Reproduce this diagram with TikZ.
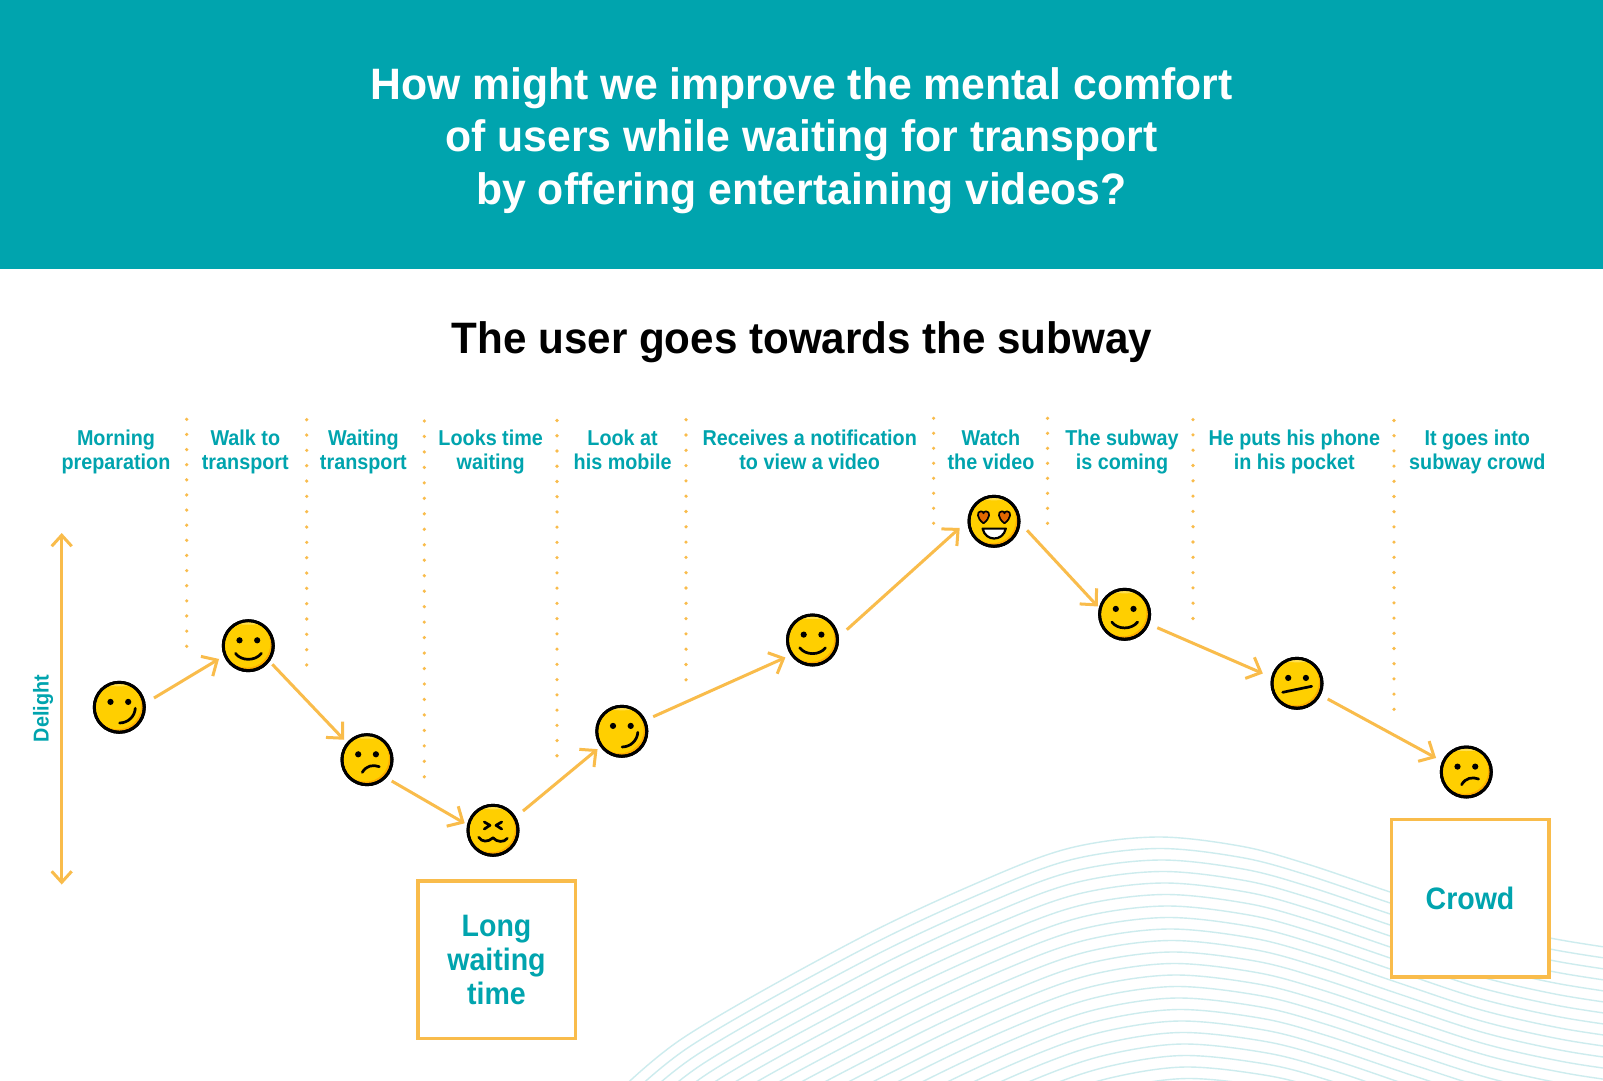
\documentclass[tikz,border=0pt]{standalone}
\usepackage{fontspec}
\setmainfont{Liberation Sans}
\newfontfamily\lblfont[FakeStretch=0.92]{Liberation Sans}
\newfontfamily\ttlfont[FakeStretch=0.971]{Liberation Sans}
\newfontfamily\subfont[FakeStretch=0.958]{Liberation Sans}
\usetikzlibrary{arrows.meta}
\definecolor{teal}{RGB}{0,164,174}
\definecolor{amber}{RGB}{249,188,75}
\definecolor{wave}{RGB}{205,236,238}
\definecolor{facey}{RGB}{255,207,0}
\definecolor{faced}{RGB}{253,172,0}
\definecolor{facel}{RGB}{255,224,80}
\definecolor{heart}{RGB}{224,104,0}
\tikzset{
  face/.style={circle,draw=black,line width=3pt,fill=faced,minimum size=50pt,inner sep=0pt,outer sep=0pt},
  eyedot/.style={fill=black},
  mouth/.style={draw=black,line width=2.7pt,line cap=round,line join=round},
  trip/.style={draw=amber,line width=3pt,shorten >=-2pt,-{Straight Barb[length=12pt,width=23pt,line width=3pt]}},
  sep/.style={draw=amber,line width=3.6pt,line cap=round,dash pattern=on 0pt off #1pt},
  stage/.style={text=teal,align=center,font=\lblfont\fontsize{21.5}{24}\selectfont\bfseries,inner sep=0pt},
  note/.style={draw=amber,line width=3.5pt,fill=white,minimum size=157.5pt,inner sep=0pt,text=teal,align=center,font=\lblfont\fontsize{31}{34}\selectfont\bfseries},
  wavy/.style={draw=wave,line width=1.4pt}
}
\newcommand{\twol}[2]{\strut #1\\\strut #2}
\newcommand{\facebody}[1]{%
  \begin{scope}
    \clip (#1) circle (23.5pt);
    \fill[facey] ([shift={(-1.6,-1.6)}]#1) circle (23.5pt);
    \fill[facel] ([shift={(0,-23)}]#1) ellipse (14pt and 2pt);
  \end{scope}
  \draw[black,line width=3pt] (#1) circle (25pt);
}
\newcommand{\twoeyes}[1]{%
  \fill[eyedot] ([shift={(-8.8,-5.4)}]#1) circle (3.1pt);
  \fill[eyedot] ([shift={(8.9,-5.4)}]#1) circle (3.1pt);
}
\begin{document}
\begin{tikzpicture}[x=1pt,y=-1pt]
\useasboundingbox (0,0) rectangle (1603,1081);
\fill[white] (0,0) rectangle (1603,1081);
% waves
\begin{scope}
\clip (0,0) rectangle (1603,1081);
\foreach \i in {0,...,24}{
  \draw[wavy] plot[smooth,tension=0.55] coordinates {
    ({600+6*\i},{1110+9*\i})
    ({683+6*\i},{1038+9*\i})
    ({856+5*\i},{940+10*\i})
    ({984+3*\i},{880+11*\i})
    ({1070+2*\i},{848+11.5*\i})
    ({1156.6+1.44*\i},{837+11.5*\i})
    ({1240+1.5*\i},{846+11.5*\i})
    ({1304+1.5*\i},{863+11.5*\i})
    ({1390+1.5*\i},{892+11.5*\i})
    ({1470+1.5*\i},{919+11.4*\i})
    ({1550+1.5*\i},{938+11.3*\i})
    ({1625+1.5*\i},{950+11.2*\i})
  };
}
\end{scope}
% header
\fill[teal] (0,0) rectangle (1603,268.5);
\node[text=white,align=center,inner sep=0pt,font=\ttlfont\fontsize{44}{52.7}\selectfont\bfseries] (title) at (801.5,140.5) {How might we improve the mental comfort\\of users while waiting for transport\\by offering entertaining videos?};
\node[text=black,inner sep=0pt,font=\subfont\fontsize{44}{52}\selectfont\bfseries] (subtitle) at (802,342) {The user goes towards the subway};
% stage labels
\node[stage] (s1) at (116,453) {\twol{Morning}{preparation}};
\node[stage] (s2) at (245.3,453) {\twol{Walk to}{transport}};
\node[stage] (s3) at (363.4,453) {\twol{Waiting}{transport}};
\node[stage] (s4) at (490.7,453) {\twol{Looks time}{waiting}};
\node[stage] (s5) at (622.6,453) {\twol{Look at}{his mobile}};
\node[stage] (s6) at (809.7,453) {\twol{Receives a notification}{to view a video}};
\node[stage] (s7) at (991,453) {\twol{Watch}{the video}};
\node[stage] (s8) at (1122,453) {\twol{The subway}{is coming}};
\node[stage] (s9) at (1294.3,453) {\twol{He puts his phone}{in his pocket}};
\node[stage] (s10) at (1477.3,453) {\twol{It goes into}{subway crowd}};
% separators
\draw[sep=15.13] (186.7,419.3) -- (186.7,647.5);
\draw[sep=15.33] (306.7,419.7) -- (306.7,667);
\draw[sep=15.47] (424.3,421) -- (424.3,778);
\draw[sep=15.24] (557,420.5) -- (557,757);
\draw[sep=15.3] (686,419.7) -- (686,680.5);
\draw[sep=15] (933.6,418.3) -- (933.6,524.5);
\draw[sep=15] (1047.5,418.3) -- (1047.5,524.5);
\draw[sep=15.3] (1193,419.6) -- (1193,619.5);
\draw[sep=15.2] (1394,420.5) -- (1394,710.5);
% delight axis
\node[text=teal,rotate=90,inner sep=0pt,font=\lblfont\fontsize{21.5}{22}\selectfont\bfseries] (delight) at (43,708.5) {Delight};
\coordinate (axtop) at (61.7,533);
\coordinate (axbot) at (61.7,884.5);
\draw[draw=amber,line width=3pt,{Straight Barb[length=11pt,width=20pt,line width=3pt]}-{Straight Barb[length=11pt,width=20pt,line width=3pt]}] (axtop) -- (axbot);
% faces
\node[face] (f1) at (119.3,707.3) {};
\node[face] (f2) at (248.3,645.7) {};
\node[face] (f3) at (367,759.7) {};
\node[face] (f4) at (493,830.3) {};
\node[face] (f5) at (621.8,731.3) {};
\node[face] (f6) at (812.5,640) {};
\node[face] (f7) at (994,521.3) {};
\node[face] (f8) at (1124.6,614.3) {};
\node[face] (f9) at (1297,683.3) {};
\node[face] (f10) at (1466.3,772) {};
\foreach \n in {f1,f2,f3,f4,f5,f6,f7,f8,f9,f10}{\facebody{\n}}
\foreach \n in {f1,f2,f3,f5,f6,f8,f9,f10}{\twoeyes{\n}}
% smirks
\foreach \n in {f1,f5}{
  \draw[mouth] ([shift={(0.3,15.7)}]\n.center) .. controls ([shift={(9,15.5)}]\n.center) and ([shift={(15.5,9)}]\n.center) .. ([shift={(16,1)}]\n.center);
}
% smiles
\foreach \n in {f2,f6,f8}{
  \draw[mouth] ([shift={(-12.8,7.7)}]\n.center) .. controls ([shift={(-7,15.6)}]\n.center) and ([shift={(7,15.6)}]\n.center) .. ([shift={(13,7.7)}]\n.center);
}
% frowns
\foreach \n in {f3,f10}{
  \draw[mouth] ([shift={(-4.7,12.7)}]\n.center) .. controls ([shift={(-1,6)}]\n.center) and ([shift={(6,4.5)}]\n.center) .. ([shift={(12.3,7)}]\n.center);
}
% dizzy face
\draw[mouth] ([shift={(-8.7,-8.3)}]f4.center) -- ([shift={(-3,-5)}]f4.center) -- ([shift={(-8.7,-1.3)}]f4.center);
\draw[mouth] ([shift={(8.7,-8.3)}]f4.center) -- ([shift={(3,-5)}]f4.center) -- ([shift={(8.7,-1.3)}]f4.center);
\draw[mouth] ([shift={(-14.3,7)}]f4.center) .. controls ([shift={(-11,12)}]f4.center) and ([shift={(-5,12)}]f4.center) .. ([shift={(0,7.5)}]f4.center) .. controls ([shift={(4,12)}]f4.center) and ([shift={(11,12.5)}]f4.center) .. ([shift={(14.3,8)}]f4.center);
% neutral
\draw[mouth] ([shift={(-14.3,9)}]f9.center) -- ([shift={(14.7,3)}]f9.center);
% hearts
\foreach \s in {-10.5,10.5}{
  \draw[fill=heart,draw=black,line width=1.7pt,line join=round] ([shift={(\s,2)}]f7.center) .. controls ([shift={(\s-7,-3)}]f7.center) and ([shift={(\s-7,-10)}]f7.center) .. ([shift={(\s-2.5,-10)}]f7.center) .. controls ([shift={(\s-1,-10)}]f7.center) and ([shift={(\s,-9)}]f7.center) .. ([shift={(\s,-8)}]f7.center) .. controls ([shift={(\s,-9)}]f7.center) and ([shift={(\s+1,-10)}]f7.center) .. ([shift={(\s+2.5,-10)}]f7.center) .. controls ([shift={(\s+7,-10)}]f7.center) and ([shift={(\s+7,-3)}]f7.center) .. ([shift={(\s,2)}]f7.center) -- cycle;
}
\draw[fill=white,draw=black,line width=2.2pt,line join=round] ([shift={(-11.4,7.3)}]f7.center) -- ([shift={(11.8,7.3)}]f7.center) .. controls ([shift={(9,20.5)}]f7.center) and ([shift={(-8.6,20.5)}]f7.center) .. ([shift={(-11.4,7.3)}]f7.center) -- cycle;
% arrows
\draw[trip] ([shift={(34.7,-9.3)}]f1.center) -- ([shift={(-31,14.3)}]f2.center);
\draw[trip] ([shift={(24,18.6)}]f2.center) -- ([shift={(-24.3,-21.4)}]f3.center);
\draw[trip] ([shift={(24.7,21.3)}]f3.center) -- ([shift={(-30,-8)}]f4.center);
\draw[trip] ([shift={(30,-19.3)}]f4.center) -- ([shift={(-25.8,19.1)}]f5.center);
\draw[trip] ([shift={(31.4,-14.6)}]f5.center) -- ([shift={(-28.9,18.3)}]f6.center);
\draw[trip] ([shift={(34.3,-10.3)}]f6.center) -- ([shift={(-35.8,8)}]f7.center);
\draw[trip] ([shift={(33.1,9)}]f7.center) -- ([shift={(-28.2,-9.3)}]f8.center);
\draw[trip] ([shift={(32.7,13.4)}]f8.center) -- ([shift={(-36,-10.6)}]f9.center);
\draw[trip] ([shift={(30.7,15.7)}]f9.center) -- ([shift={(-32,-15)}]f10.center);
% note boxes
\node[note] (n1) at (496.5,959.8) {Long\\waiting\\time};
\node[note] (n2) at (1470,898) {Crowd};
\end{tikzpicture}
\end{document}
